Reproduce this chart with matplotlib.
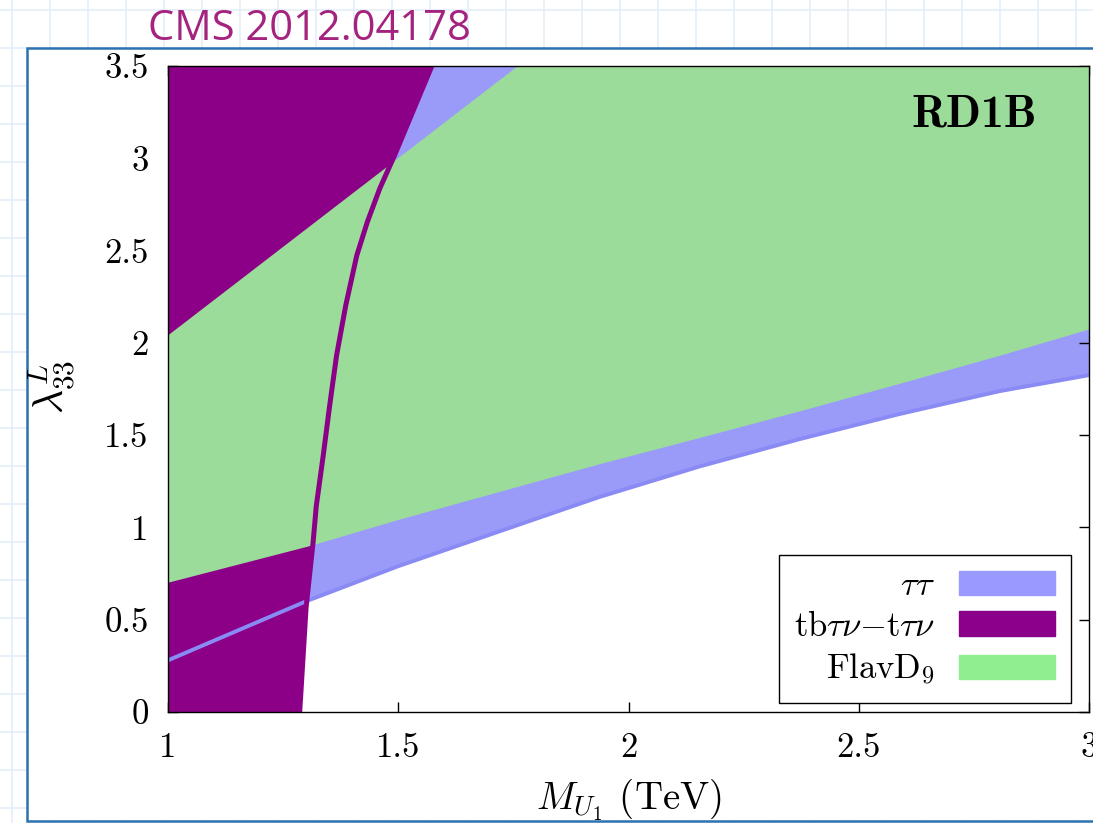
import numpy as np
import matplotlib
matplotlib.use("Agg")
import matplotlib.pyplot as plt
from matplotlib.patches import Patch, Rectangle
from matplotlib.lines import Line2D
from matplotlib.ticker import FuncFormatter

# tau tau exclusion: lower edge of the blue region (lambda vs M)
tautau_m = [1.0, 1.3, 1.5, 1.937, 2.154, 2.371, 2.588, 2.805, 3.0]
tautau_lam = [0.28, 0.60, 0.79, 1.165, 1.330, 1.478, 1.614, 1.738, 1.825]

# tb tau nu - t tau nu exclusion: boundary M as function of lambda
tbtn_lam = [0.0, 0.57, 0.917, 1.116, 1.388, 1.659, 1.931, 2.203, 2.474, 2.656, 2.837, 3.016, 3.5]
tbtn_m = [1.286, 1.300, 1.315, 1.322, 1.337, 1.351, 1.366, 1.386, 1.410, 1.433, 1.460, 1.492, 1.573]

# FlavD9 allowed band
flav_lo_m = [1.0, 1.31, 1.5, 1.937, 2.154, 2.371, 2.588, 2.805, 3.0]
flav_lo = [0.70, 0.90, 1.04, 1.342, 1.484, 1.628, 1.777, 1.929, 2.072]
flav_up_m = [1.0, 1.5, 1.76, 3.0]
flav_up = [2.04, 3.0, 3.5, 3.5]

labels = [r'$\tau\tau$', r'tb$\tau\nu$$-$t$\tau\nu$', r'FlavD$_9$']
xticks = [1, 1.5, 2, 2.5, 3]
yticks = [0, 0.5, 1, 1.5, 2, 2.5, 3, 3.5]

plt.rcParams['font.family'] = 'cmr10'
plt.rcParams['mathtext.fontset'] = 'cm'
plt.rcParams['axes.formatter.use_mathtext'] = True

W, H = 1093, 823
fig = plt.figure(figsize=(W / 100, H / 100), dpi=100)

# slide background: faint grid, white box with blue frame
for gx in np.arange(12, W, 38):
    fig.add_artist(Line2D([gx / W] * 2, [0, 1], color='#e4eef8', lw=1.2, zorder=-3))
for gy in np.arange(10, H, 38):
    fig.add_artist(Line2D([0, 1], [1 - gy / H] * 2, color='#e4eef8', lw=1.2, zorder=-3))
fig.add_artist(Rectangle((27 / W, 1 - 821 / H), 1.2, (821 - 48) / H, transform=fig.transFigure,
                         fc='white', ec='#2b72ae', lw=1.8, zorder=-1))
fig.text(148 / W, 1 - 29 / H, 'CMS 2012.04178', family='Open Sans', size=30,
         color='#a3237f', va='center', ha='left')

ax = fig.add_axes([168 / W, 1 - 712 / H, (1089 - 168) / W, (712 - 66) / H])

blue, purple, green = '#9a9af9', '#8b0087', '#9cdc9a'
ax.fill_between(tautau_m, tautau_lam, 3.5, color=blue, lw=0, zorder=1)
ax.fill_betweenx(tbtn_lam, 1.0, tbtn_m, color=purple, lw=0, zorder=2)
ax.plot(tautau_m, tautau_lam, color='#8a8af5', lw=2.8, zorder=2.5, solid_capstyle='butt')
ax.fill(np.r_[flav_lo_m, flav_up_m[::-1]], np.r_[flav_lo, flav_up[::-1]], color=green, lw=0, zorder=3)
ax.plot(tbtn_m, tbtn_lam, color=purple, lw=3.6, zorder=4)

ax.set_xlim(1, 3)
ax.set_ylim(0, 3.5)
ax.set_xticks(xticks)
ax.set_yticks(yticks)
fmt = FuncFormatter(lambda v, p: '%g' % v)
ax.xaxis.set_major_formatter(fmt)
ax.yaxis.set_major_formatter(fmt)
ax.tick_params(direction='in', length=7, width=1, top=True, right=True, labelsize=25)
ax.tick_params(axis='x', pad=15)
ax.tick_params(axis='y', pad=14)
for s in ax.spines.values():
    s.set_linewidth(1.0)
    s.set_zorder(6)

ax.set_xlabel(r'$M_{U_1}$ (TeV)', fontsize=28)
ax.xaxis.set_label_coords(0.5, -0.1)
ax.set_ylabel(r'$\lambda^L_{33}$', fontsize=30)
ax.yaxis.set_label_coords(-0.098, 0.503)

ax.text(0.9435, 0.924, 'RD1B', transform=ax.transAxes, family='cmb10', fontsize=33,
        ha='right', va='center', zorder=7)

handles = [Patch(color='#9999ff'), Patch(color='#8b008b'), Patch(color='#90ee90')]
leg = ax.legend(handles, labels, loc='lower right', bbox_to_anchor=(0.980, 0.014),
                markerfirst=False, fontsize=25, handlelength=2.75, handletextpad=0.7,
                borderpad=0.45, labelspacing=0.25, fancybox=False, framealpha=1, borderaxespad=0)
leg.get_frame().set_edgecolor('black')
leg.get_frame().set_linewidth(1.0)
leg.set_zorder(8)

fig.savefig('out.png', dpi=100)
